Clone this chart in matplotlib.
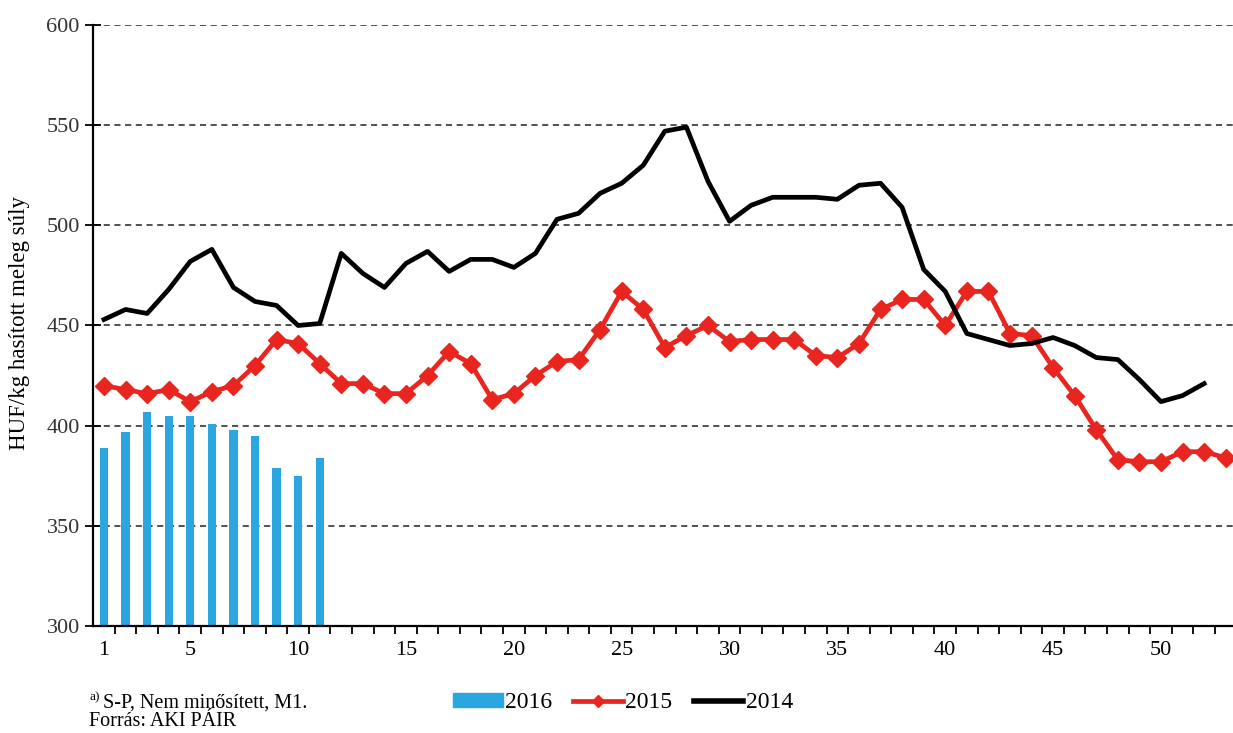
import numpy as np
import matplotlib.pyplot as plt
from matplotlib.patches import Patch
from matplotlib.lines import Line2D

plt.rcParams['font.family'] = ['Liberation Serif', 'DejaVu Serif']

# weekly prices, HUF/kg
weeks_2016 = list(range(1, 12))
price_2016 = [389, 397, 407, 405, 405, 401, 398, 395, 379, 375, 384]

weeks_2015 = list(range(1, 54))
price_2015 = [420, 418, 416, 418, 412, 417, 420, 430, 443, 441,
              431, 421, 421, 416, 416, 425, 437, 431, 413, 416,
              425, 432, 433, 448, 467, 458, 439, 445, 450, 442,
              443, 443, 443, 435, 434, 441, 458, 463, 463, 450,
              467, 467, 446, 445, 429, 415, 398, 383, 382, 382,
              387, 387, 384]

weeks_2014 = list(range(1, 53))
price_2014 = [453, 458, 456, 468, 482, 488, 469, 462, 460, 450,
              451, 486, 476, 469, 481, 487, 477, 483, 483, 479,
              486, 503, 506, 516, 521, 530, 547, 549, 522, 502,
              510, 514, 514, 514, 513, 520, 521, 509, 478, 467,
              446, 443, 440, 441, 444, 440, 434, 433, 423, 412,
              415, 421]

xticks = [1, 5, 10, 15, 20, 25, 30, 35, 40, 45, 50]

c16 = '#2AA7E1'
c15 = '#E8261F'
c14 = '#000000'

fig = plt.figure(figsize=(12.33, 7.33), dpi=100)
ax = fig.add_axes([93 / 1233, 107 / 733, 1 - 93 / 1233, 601 / 733])

ax.bar(weeks_2016, [p - 300 for p in price_2016], bottom=300, width=0.38,
       color=c16, zorder=2)
ax.plot(weeks_2015, price_2015, color=c15, lw=3.4, marker='D', ms=9,
        mec=c15, zorder=3, clip_on=False)
ax.plot(weeks_2014, price_2014, color=c14, lw=3.4, zorder=4)

ax.set_ylim(300, 600)
ax.set_xlim(0.49, 53.34)
ax.set_yticks(np.arange(300, 601, 50))

# labels on weeks, tick marks between weeks
ax.set_xticks(xticks)
ax.set_xticks(np.arange(1.5, 53.5, 1), minor=True)
ax.tick_params(axis='x', which='major', length=0, labelsize=16, pad=11)
ax.tick_params(axis='x', which='minor', direction='out', length=6, width=1.3)
ax.tick_params(axis='y', direction='inout', length=11, width=1.3, labelsize=16, pad=4,
               labelcolor='#333333')

for v in range(350, 601, 50):
    ax.axhline(v, color='#222222', lw=1.1, ls=(0, (4, 3)), zorder=1)

for s in ['top', 'right']:
    ax.spines[s].set_visible(False)
ax.spines['left'].set_linewidth(1.6)
ax.spines['bottom'].set_linewidth(1.6)

fig.text(20 / 1233, 1 - 323 / 733, 'HUF/kg hasított meleg súly', rotation=90,
         ha='center', va='center', fontsize=16.5)

fig.text(89 / 1233, 1 - 697 / 733, 'a)', fontsize=9.5, ha='left', va='center')
fig.text(103 / 1233, 1 - 703 / 733, 'S-P, Nem minősített, M1.', fontsize=14.5,
         ha='left', va='center')
fig.text(89 / 1233, 1 - 722 / 733, 'Forrás: AKI PÁIR', fontsize=14.5,
         ha='left', va='center')

handles = [Patch(color=c16),
           Line2D([], [], color=c15, lw=3.4, marker='D', ms=6),
           Line2D([], [], color=c14, lw=4)]
fig.legend(handles, ['2016', '2015', '2014'], loc='center',
           bbox_to_anchor=(623 / 1233, 1 - 703 / 733), ncol=3, frameon=False,
           fontsize=17, handlelength=2.1, handletextpad=0.1, columnspacing=0.9,
           handleheight=0.55)

fig.savefig('out.png', dpi=100)
